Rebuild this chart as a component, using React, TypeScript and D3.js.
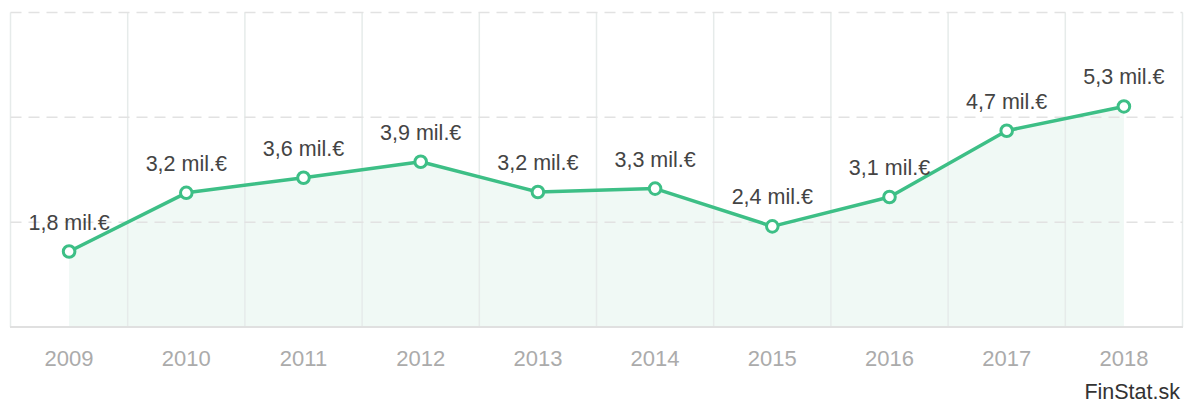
import React from "react";
import * as d3 from "d3";

const years = ["2009", "2010", "2011", "2012", "2013", "2014", "2015", "2016", "2017", "2018"];
const values = [1.8, 3.2, 3.56, 3.94, 3.22, 3.3, 2.4, 3.1, 4.68, 5.26];
const valueLabels = ["1,8 mil.€", "3,2 mil.€", "3,6 mil.€", "3,9 mil.€", "3,2 mil.€", "3,3 mil.€", "2,4 mil.€", "3,1 mil.€", "4,7 mil.€", "5,3 mil.€"];
const yTicks = [2.5, 5, 7.5];

const W = 1190;
const H = 405;
const left = 10.5;
const right = 1182.5;
const top = 12.5;
const bottom = 327;
const FONT = "'Liberation Sans', Arial, Helvetica, sans-serif";

export default function App() {
  const x = d3.scaleBand<string>().domain(years).range([left, right]).padding(0);
  const y = d3.scaleLinear().domain([0, 7.5]).range([bottom, top]);
  const cx = (d: string) => (x(d) as number) + x.bandwidth() / 2;

  const pts = years.map((yr, i) => ({ yr, v: values[i], label: valueLabels[i] }));
  const line = d3.line<{ yr: string; v: number }>().x((d) => cx(d.yr)).y((d) => y(d.v));
  const area = d3
    .area<{ yr: string; v: number }>()
    .x((d) => cx(d.yr))
    .y0(y(0))
    .y1((d) => y(d.v));

  const gridColor = "#e6ebea";

  return (
    <svg
      width={W}
      height={H}
      style={{ position: "absolute", left: 0, top: 0, display: "block", background: "#fff" }}
    >
      <path d={area(pts) || ""} fill="#f0f9f5" />
      {years.map((yr) => (
        <line
          key={"v" + yr}
          x1={x(yr) as number}
          x2={x(yr) as number}
          y1={top}
          y2={bottom}
          stroke={gridColor}
          strokeWidth={1.5}
        />
      ))}
      <line x1={right} x2={right} y1={top} y2={bottom} stroke={gridColor} strokeWidth={1.5} />
      {yTicks.map((t) => (
        <line
          key={"h" + t}
          x1={left}
          x2={right}
          y1={y(t)}
          y2={y(t)}
          stroke="#e2e2e2"
          strokeWidth={1.5}
          strokeDasharray="11,7"
        />
      ))}
      <line x1={left - 0.5} x2={right + 0.5} y1={bottom} y2={bottom} stroke="#e0e0e0" strokeWidth={2} />
      <path d={line(pts) || ""} fill="none" stroke="#3dbf86" strokeWidth={3.5} strokeLinejoin="round" />
      {pts.map((p) => (
        <circle key={"c" + p.yr} cx={cx(p.yr)} cy={y(p.v)} r={5.8} fill="#fff" stroke="#3dbf86" strokeWidth={3} />
      ))}
      {pts.map((p) => (
        <text
          key={"l" + p.yr}
          x={cx(p.yr)}
          y={y(p.v) - 22}
          textAnchor="middle"
          fontFamily={FONT}
          fontSize={21.5}
          fill="#444"
        >
          {p.label}
        </text>
      ))}
      {years.map((yr) => (
        <text
          key={"x" + yr}
          x={cx(yr)}
          y={366}
          textAnchor="middle"
          fontFamily={FONT}
          fontSize={22}
          fill="#ababab"
        >
          {yr}
        </text>
      ))}
      <text x={1180} y={399} textAnchor="end" fontFamily={FONT} fontSize={21.5} fill="#333">
        FinStat.sk
      </text>
    </svg>
  );
}
